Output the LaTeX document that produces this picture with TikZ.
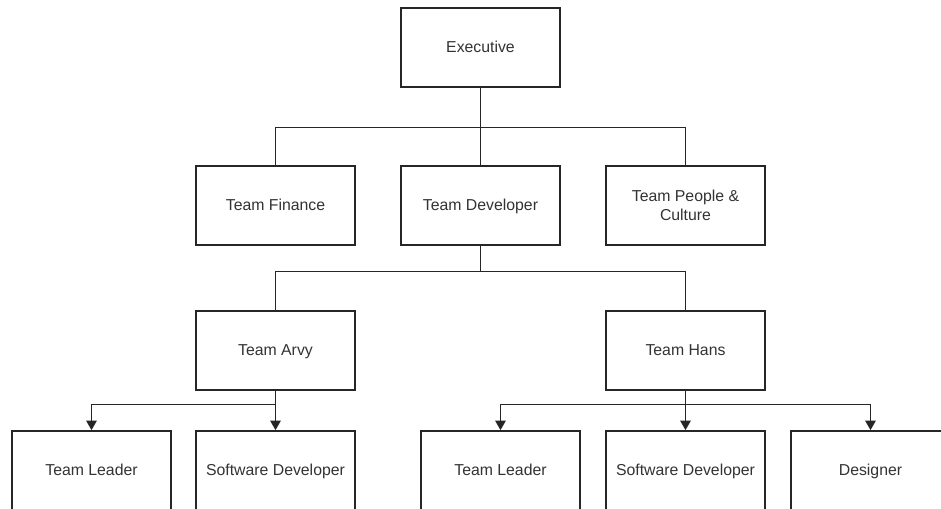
\documentclass[tikz,border=0pt]{standalone}
\usepackage{fontspec}
\setmainfont{Liberation Sans}
\usetikzlibrary{arrows.meta}

\begin{document}
\begin{tikzpicture}[x=0.02cm,y=-0.02cm,line width=0.95pt,
  unit/.style={draw=black!85,fill=white,minimum width=3.18cm,minimum height=1.58cm,
    inner sep=0pt,align=center,text=black!80,font=\fontsize{9}{11}\selectfont,
    text height=1.6ex,text depth=0.45ex},
  link/.style={draw=black!85},
  feed/.style={draw=black!85,-{Triangle[length=5.5pt,width=6pt]}}]

% Background
\useasboundingbox (0,0) rectangle (941,508);
\clip (0,0) rectangle (941,508);

% Top
\node[unit] (exec) at (480.5,47.5) {Executive};

% Departments
\node[unit] (finance) at (275.5,205.5) {Team Finance};
\node[unit] (dev) at (480.5,205.5) {Team Developer};
\node[unit,text height=,text depth=] (people) at (685.5,205.5) {Team People \&\\Culture};

% Teams
\node[unit] (arvy) at (275.5,350.5) {Team Arvy};
\node[unit] (hans) at (685.5,350.5) {Team Hans};

% Members
\node[unit] (leadA) at (91.5,470.5) {Team Leader};
\node[unit] (softA) at (275.5,470.5) {Software Developer};
\node[unit] (leadH) at (500.5,470.5) {Team Leader};
\node[unit] (softH) at (685.5,470.5) {Software Developer};
\node[unit] (design) at (870.5,470.5) {Designer};

% Bus points
\coordinate (busE) at (480.5,127.5);
\coordinate (busD) at (480.5,271.5);
\coordinate (busA) at (275.5,404.5);
\coordinate (busH) at (685.5,404.5);

% Lines
\draw[link] (exec) -- (busE);
\draw[link] (busE) -| (finance);
\draw[link] (busE) -- (dev);
\draw[link] (busE) -| (people);

\draw[link] (dev) -- (busD);
\draw[link] (busD) -| (arvy);
\draw[link] (busD) -| (hans);

% Arrows
\draw[link] (arvy) -- (busA);
\draw[feed] (busA) -| (leadA);
\draw[feed] (busA) -- (softA);

\draw[link] (hans) -- (busH);
\draw[feed] (busH) -| (leadH);
\draw[feed] (busH) -- (softH);
\draw[feed] (busH) -| (design);

\end{tikzpicture}
\end{document}
